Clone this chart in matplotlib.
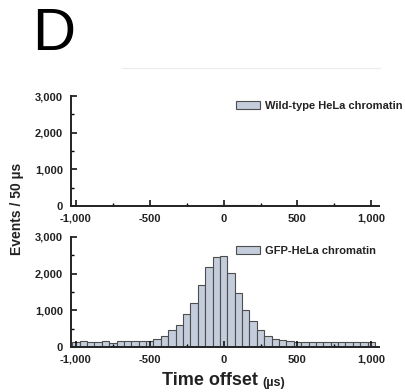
import numpy as np
import matplotlib.pyplot as plt
from matplotlib.lines import Line2D
from matplotlib.ticker import MultipleLocator, FuncFormatter

plt.rcParams['font.family'] = ['Liberation Sans', 'DejaVu Sans']

# bin centres (us) and event counts per 50 us bin
offsets = np.arange(-1000, 1001, 50)
wild_type = [0, 0, 0, 0, 0, 0, 0, 0, 0, 0, 0, 0, 0, 0, 0, 0, 0, 0, 0, 10, 30,
             40, 35, 25, 15, 10, 0, 0, 0, 0, 0, 0, 0, 0, 0, 0, 0, 0, 0, 0, 0]
gfp = [140, 175, 130, 140, 160, 120, 160, 160, 160, 160, 160, 220, 310, 465,
       600, 885, 1205, 1700, 2190, 2450, 2485, 2010, 1480, 1005, 710, 455,
       310, 220, 200, 170, 140, 140, 140, 140, 140, 140, 140, 140, 140, 140, 140]
labels = ["Wild-type HeLa chromatin", "GFP-HeLa chromatin"]

bar_fill = '#c4cddb'
bar_edge = '#4d4d4d'

fig = plt.figure(figsize=(4.06, 3.92), dpi=100)
ax_top = fig.add_axes([0.174, 0.4745, 0.759, 0.2806])
ax_bot = fig.add_axes([0.174, 0.115, 0.759, 0.2806])

thousands = FuncFormatter(lambda v, p: f"{int(v):,}")

legend_y = [0.955, 0.918]
for ax, counts, lab, ly in zip([ax_top, ax_bot], [wild_type, gfp], labels, legend_y):
    ax.bar(offsets, counts, width=50, color=bar_fill, edgecolor=bar_edge,
           linewidth=0.8, label=lab)
    ax.set_xlim(-1036, 1051)
    ax.set_ylim(0, 3000)
    ax.xaxis.set_major_locator(MultipleLocator(500))
    ax.xaxis.set_minor_locator(MultipleLocator(250))
    ax.yaxis.set_major_locator(MultipleLocator(1000))
    ax.yaxis.set_minor_locator(MultipleLocator(500))
    ax.xaxis.set_major_formatter(thousands)
    ax.yaxis.set_major_formatter(thousands)
    ax.spines['top'].set_visible(False)
    ax.spines['right'].set_visible(False)
    for s in ['left', 'bottom']:
        ax.spines[s].set_linewidth(1.4)
        ax.spines[s].set_color('#222222')
    ax.tick_params(which='major', direction='in', length=4, width=1.1,
                   labelsize=8, labelcolor='#222222')
    ax.tick_params(axis='x', which='major', pad=5.5)
    ax.tick_params(axis='y', which='major', pad=5.5)
    ax.tick_params(which='minor', direction='in', length=2.5, width=1.0)
    for t in ax.get_xticklabels() + ax.get_yticklabels():
        t.set_fontweight('bold')
    leg = ax.legend(loc='upper left', bbox_to_anchor=(0.536, ly), frameon=False,
                    borderaxespad=0, borderpad=0, handlelength=2.2,
                    handleheight=0.75, handletextpad=0.4,
                    prop={'size': 8, 'weight': 'bold'})
    for t in leg.get_texts():
        t.set_color('#222222')

fig.text(0.079, 0.872, "D", fontsize=43, ha='left', va='baseline')
fig.add_artist(Line2D([0.30, 0.935], [0.827, 0.827], color='#ececec', lw=0.8))

fig.text(0.042, 0.466, "Events / 50 \u00b5s", rotation=90, ha='center',
         va='center', fontsize=10, fontweight='bold', color='#222222')
xl = fig.text(0.635, 0.017, "Time offset", ha='right', va='baseline',
              fontsize=13, fontweight='bold', color='#222222')
ax_bot.annotate("(\u00b5s)", xy=(1, 0), xycoords=xl, xytext=(3, 0),
                textcoords='offset points', ha='left', va='bottom',
                fontsize=9, fontweight='bold', color='#222222')

fig.savefig('out.png', dpi=100)
